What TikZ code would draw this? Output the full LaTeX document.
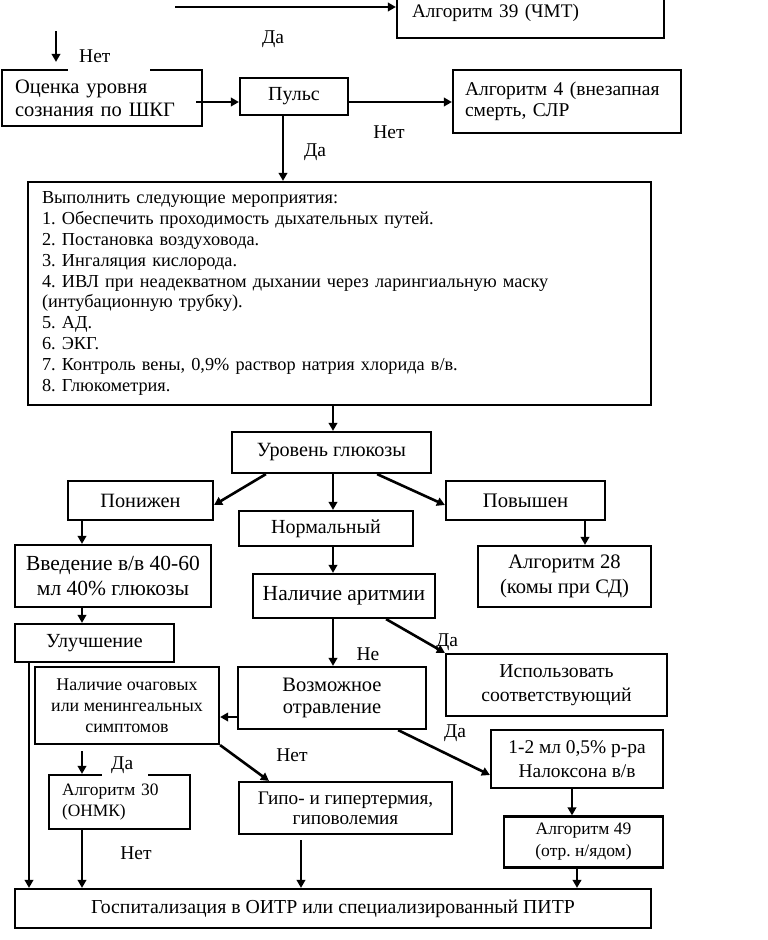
\documentclass[tikz,border=0pt]{standalone}
\usepackage{fontspec}
\setmainfont{Liberation Serif}
\usetikzlibrary{arrows.meta}
\frenchspacing
\newcommand{\fsz}[2]{\fontsize{#1}{#2}\selectfont}
\begin{document}
\begin{tikzpicture}[x=1pt,y=-1pt,
  box/.style={draw, line width=2.2pt, inner sep=0pt, font=\fsz{20}{23}, align=center},
  lbox/.style={box, align=left},
  arr/.style={line width=2.6pt, -{Triangle[length=8pt,width=8.5pt]}},
  lbl/.style={inner sep=1pt, font=\fsz{19.5}{22}}]
\useasboundingbox (0,0) rectangle (768,940);
% columns / rows
\coordinate (x29) at (29,0);
\coordinate (x82) at (82,0);
\coordinate (x283) at (283,0);
\coordinate (x333) at (333,0);
\coordinate (x301) at (301,0);
\coordinate (x572) at (572,0);
\coordinate (x577) at (577,0);
\coordinate (x585) at (585,0);
\coordinate (y102) at (0,102);
\coordinate (topL) at (175,7);
\coordinate (nA) at (56,31);
% boxes
\node[lbox, minimum width=267pt, minimum height=50pt, text width=237pt, inner xsep=15pt, font=\fsz{19.2}{22}] (alg39) at (530.5,13) {Алгоритм 39 (ЧМТ)};
\node[lbox, minimum width=200pt, minimum height=56pt, text width=174pt, inner xsep=13pt, font=\fsz{20.5}{23}] (ocenka) at (102,98) {Оценка уровня\\сознания по ШКГ};
\node[box, minimum width=108pt, minimum height=37pt] (pulse) at (294,96.5) {Пульс};
\node[lbox, minimum width=228pt, minimum height=63pt, text width=204pt, inner xsep=12pt, font=\fsz{19.5}{21}] (alg4) at (567,101.5) {Алгоритм 4 (внезапная\\смерть, СЛР};
\node[lbox, minimum width=623pt, minimum height=223pt, text width=595pt, inner xsep=14pt, font=\fsz{18.3}{20.9}] (big) at (339.5,293.5) {Выполнить следующие мероприятия:\\
1. Обеспечить проходимость дыхательных путей.\\
2. Постановка воздуховода.\\
3. Ингаляция кислорода.\\
4. ИВЛ при неадекватном дыхании через ларингиальную маску\\
(интубационную трубку).\\
5. АД.\\
6. ЭКГ.\\
7. Контроль вены, 0,9\% раствор натрия хлорида в/в.\\
8. Глюкометрия.};
\node[box, minimum width=199pt, minimum height=41pt, font=\fsz{20.2}{23}] (glucose) at (331.5,452.5) {Уровень глюкозы};
\node[box, minimum width=145pt, minimum height=39pt, font=\fsz{20.3}{23}] (ponizh) at (140.5,500.5) {Понижен};
\node[box, minimum width=174pt, minimum height=35pt] (normal) at (326,528.5) {Нормальный};
\node[box, minimum width=159pt, minimum height=39pt, font=\fsz{20.7}{23}] (povysh) at (525.5,500.5) {Повышен};
\node[box, minimum width=196pt, minimum height=62pt, font=\fsz{21.5}{25}] (vved) at (113,576) {Введение в/в 40-60\\мл 40\% глюкозы};
\node[box, minimum width=182pt, minimum height=44pt, font=\fsz{21.5}{24}] (aritm) at (344,596) {Наличие аритмии};
\node[box, minimum width=173pt, minimum height=61pt, font=\fsz{20.6}{25}] (alg28) at (564.5,576.5) {Алгоритм 28\\(комы при СД)};
\node[box, minimum width=159pt, minimum height=38pt] (uluch) at (94.5,643) {Улучшение};
\node[box, minimum width=184pt, minimum height=77pt, font=\fsz{17.9}{21}] (ochag) at (127,705.5) {Наличие очаговых\\или менингеальных\\симптомов};
\node[box, minimum width=188pt, minimum height=62pt, font=\fsz{20.5}{22}] (otrav) at (332,698) {Возможное\\отравление};
\node[box, minimum width=221pt, minimum height=62pt, font=\fsz{19.7}{24}] (ispol) at (556.5,685) {Использовать\\соответствующий};
\node[box, minimum width=172pt, minimum height=58pt, font=\fsz{19.4}{24}] (nalox) at (577,759) {1-2 мл 0,5\% р-ра\\Налоксона в/в};
\node[lbox, minimum width=141pt, minimum height=54pt, text width=115pt, inner xsep=13pt, font=\fsz{17.4}{21}] (alg30) at (119.5,802) {Алгоритм 30\\(ОНМК)};
\node[box, minimum width=213pt, minimum height=52pt, font=\fsz{19.2}{20}] (gipo) at (345.5,808) {Гипо- и гипертермия,\\гиповолемия};
\node[box, minimum width=159pt, minimum height=51pt, font=\fsz{17.5}{22}] (alg49) at (583.5,842) {Алгоритм 49\\(отр. н/ядом)};
\node[box, minimum width=636pt, minimum height=39pt, font=\fsz{19.8}{23}] (gosp) at (333,908.5) {Госпитализация в ОИТР или специализированный ПИТР};
% connectors
\draw[arr] (topL) -- (alg39.west |- topL);
\draw[arr, shorten >=7pt] (nA) -- (ocenka.north -| nA);
\draw[arr, shorten <=-7pt] (ocenka.east |- y102) -- (pulse.west |- y102);
\draw[arr] (pulse.east |- y102) -- (alg4.west |- y102);
\draw[arr] (pulse.south -| x283) -- (big.north -| x283);
\draw[arr] (big.south -| x333) -- (glucose.north -| x333);
\draw[arr] ([xshift=35pt]glucose.south west) -- ([yshift=-4.5pt]ponizh.east);
\draw[arr] (glucose.south -| x333) -- (normal.north -| x333);
\draw[arr] ([xshift=-55pt]glucose.south east) -- ([yshift=-4.5pt]povysh.west);
\draw[arr] (ponizh.south -| x82) -- (vved.north -| x82);
\draw[arr] (vved.south -| x82) -- (uluch.north -| x82);
\draw[arr] (normal.south -| x333) -- (aritm.north -| x333);
\draw[arr] (povysh.south -| x585) -- (alg28.north -| x585);
\draw[arr] (aritm.south -| x333) -- (otrav.north -| x333);
\draw[arr] ([xshift=-50pt]aritm.south east) -- (ispol.north west);
\draw[arr] ([yshift=-19pt]otrav.west) -- ([yshift=-11.5pt]ochag.east);
\draw[arr] (ochag.south east) -- ([xshift=31pt]gipo.north west);
\draw[arr, shorten <=6pt] (ochag.south -| x82) -- (alg30.north -| x82);
\draw[arr] (alg30.south -| x82) -- (gosp.north -| x82);
\draw[arr] (uluch.south -| x29) -- (gosp.north -| x29);
\draw[arr, shorten <=5pt] (gipo.south -| x301) -- (gosp.north -| x301);
\draw[arr] ([xshift=-29pt]otrav.south east) -- ([yshift=-16pt]nalox.west);
\draw[arr] (nalox.south -| x572) -- (alg49.north -| x572);
\draw[arr] (alg49.south -| x577) -- (gosp.north -| x577);
% labels
\node[lbl] (lDa1) at (273,39) {Да};
\node[lbl, fill=white, anchor=west, text width=60pt, inner xsep=11pt, inner ysep=0pt, minimum height=30pt, align=left] (lNet1) at (68,56) {Нет};
\node[lbl] (lNet2) at (389,132) {Нет};
\node[lbl] (lDa2) at (315,152) {Да};
\node[lbl] (lDa3) at (447,642) {Да};
\node[lbl] (lNe) at (368,654) {Не};
\node[lbl] (lDa4) at (455,733) {Да};
\node[lbl] (lNet3) at (292,755) {Нет};
\node[lbl, fill=white, anchor=west, text width=28pt, inner xsep=9pt, inner ysep=0pt, minimum height=22pt, align=left] (lDa5) at (102,765) {Да};
\node[lbl] (lNet4) at (136,853) {Нет};
\end{tikzpicture}
\end{document}
